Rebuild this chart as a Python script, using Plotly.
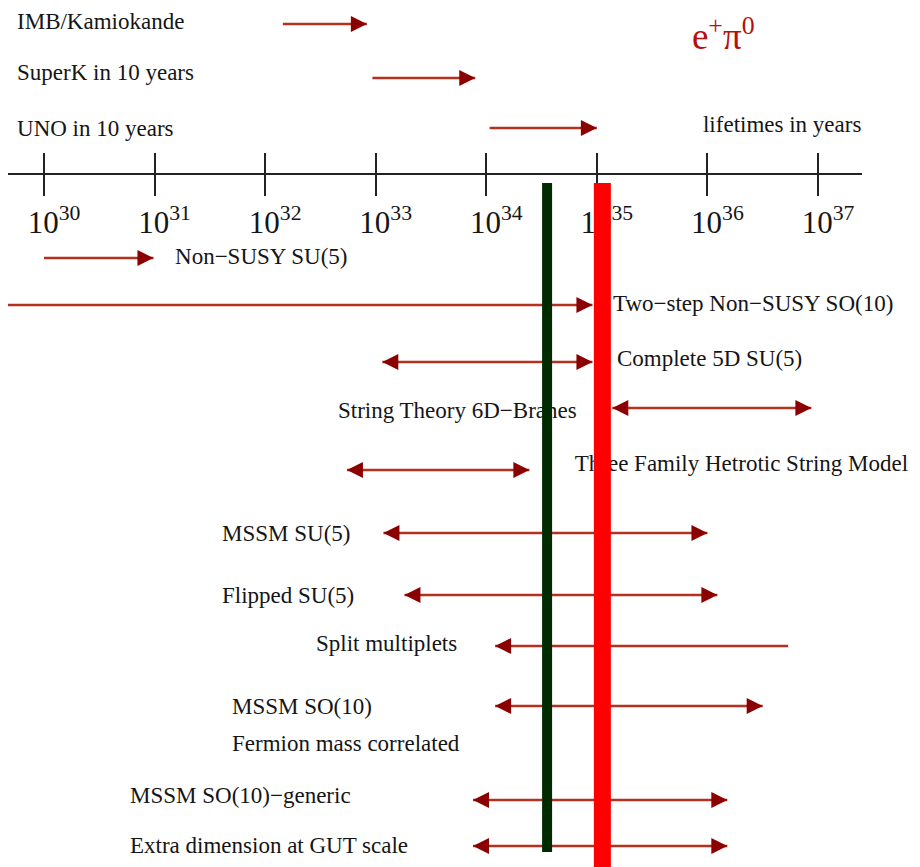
import plotly.graph_objects as go

# ---------------- data (log10 of lifetime in years) ----------------
row_names = [
    "IMB/Kamiokande", "SuperK in 10 years", "UNO in 10 years",
    "Non\u2212SUSY SU(5)", "Two\u2212step Non\u2212SUSY SO(10)", "Complete 5D SU(5)",
    "String Theory 6D\u2212Branes", "Three Family Hetrotic String Model",
    "MSSM SU(5)", "Flipped SU(5)", "Split multiplets", "MSSM SO(10)",
    "MSSM SO(10)\u2212generic", "Extra dimension at GUT scale",
]
range_lo = [32.16, 32.97, 34.03, 30.00, 29.67, 33.06, 35.14, 32.74, 33.07, 33.26, 34.08, 34.08, 33.88, 33.88]
range_hi = [32.92, 33.90, 35.00, 30.99, 34.96, 34.96, 36.94, 34.39, 36.00, 36.09, 36.73, 36.50, 36.18, 36.18]
head_lo = [False, False, False, False, False, True, True, True, True, True, True, True, True, True]
head_hi = [True, True, True, True, True, True, True, True, True, True, False, True, True, True]

tick_exponents = [30, 31, 32, 33, 34, 35, 36, 37]
tick_labels = ["10<sup>%d</sup>" % e for e in tick_exponents]

green_limit = 34.55   # current limit line
red_limit = 35.05     # expected sensitivity line

extra_texts = ["Fermion mass correlated", "lifetimes in years"]
channel_text = "e<sup>+</sup>\u03c0<sup>0</sup>"

# ---------------- layout positions (page pixel rows, label anchors) ----------------
PAGE_W, PAGE_H = 920, 867
OFF = 8                      # default page body margin
W, H = PAGE_W - OFF, PAGE_H - OFF
row_y = [24, 78, 128, 258, 305, 362, 408, 470, 533, 595, 646, 706, 800, 846]
label_x = [29.756, 29.756, 29.756, 31.185, 35.146, 35.182, 32.659, 34.80,
           31.61, 31.61, 32.46, 31.70, 30.778, 30.778]
label_y = [23, 74, 130, 258, 305, 360, 412, 465, 535, 597, 645, 708, 797, 847]
extra_x = [31.70, 35.96]
extra_y = [745, 126]
axis_y = 174

LINE_C = "#b5301e"
HEAD_C = "#8b0000"
SERIF = "Liberation Serif, Times New Roman, serif"

fig = go.Figure()

# labels
fig.add_trace(go.Scatter(
    x=label_x + extra_x, y=label_y + extra_y, mode="text",
    text=row_names + extra_texts, textposition="middle right",
    textfont=dict(family=SERIF, size=23, color="#151515"),
    hoverinfo="skip", showlegend=False, cliponaxis=False))
fig.add_trace(go.Scatter(
    x=[35.86], y=[40], mode="text", text=[channel_text],
    textposition="middle right",
    textfont=dict(family=SERIF, size=37, color="#b8100c"),
    hoverinfo="skip", showlegend=False, cliponaxis=False))

# range lines
for lo, hi, y in zip(range_lo, range_hi, row_y):
    fig.add_trace(go.Scatter(
        x=[lo, hi], y=[y, y], mode="lines",
        line=dict(color=LINE_C, width=2.5),
        hoverinfo="skip", showlegend=False, cliponaxis=True))

# arrow heads
hx, hy, hs = [], [], []
for lo, hi, y, hl, hh in zip(range_lo, range_hi, row_y, head_lo, head_hi):
    if hl:
        hx.append(lo); hy.append(y); hs.append("arrow-left")
    if hh:
        hx.append(hi); hy.append(y); hs.append("arrow-right")
fig.add_trace(go.Scatter(
    x=hx, y=hy, mode="markers",
    marker=dict(symbol=hs, size=16, color=HEAD_C, line=dict(width=0)),
    hoverinfo="skip", showlegend=False, cliponaxis=False))

# dummy trace for the second (inside-tick) axis
fig.add_trace(go.Scatter(x=[30], y=[100], xaxis="x2", mode="markers",
                         marker=dict(opacity=0), hoverinfo="skip", showlegend=False))

# limit bars
fig.add_shape(type="line", xref="x", yref="y", x0=green_limit, x1=green_limit,
              y0=183, y1=852, line=dict(color="#002a00", width=10), layer="above")
fig.add_shape(type="line", xref="x", yref="y", x0=red_limit, x1=red_limit,
              y0=183, y1=PAGE_H, line=dict(color="#ff0000", width=17), layer="above")

# axis line from page x=8 to x=862
dom = [(8 - OFF) / W, (862 - OFF) / W]
xr = [29.6744, 37.3981]
pos = 1 - (axis_y - OFF) / H
common = dict(domain=dom, range=xr, anchor="free", position=pos,
              tickvals=tick_exponents, showgrid=False, zeroline=False,
              ticklen=21, tickwidth=2, tickcolor="#222222", fixedrange=True)
fig.update_layout(
    width=W, height=H, margin=dict(l=0, r=0, t=0, b=0),
    paper_bgcolor="white", plot_bgcolor="white",
    xaxis=dict(**common, ticks="outside", ticktext=tick_labels,
               showline=True, linecolor="#222222", linewidth=2,
               tickfont=dict(family=SERIF, size=31, color="#151515"),
               ticklabelshift=10, ticklabelstandoff=0),
    xaxis2=dict(**common, ticks="inside", overlaying="x", matches="x",
                showticklabels=False, showline=False),
    yaxis=dict(range=[PAGE_H, OFF], domain=[0, 1], visible=False, fixedrange=True),
    showlegend=False,
)

fig.write_html("out.html")
